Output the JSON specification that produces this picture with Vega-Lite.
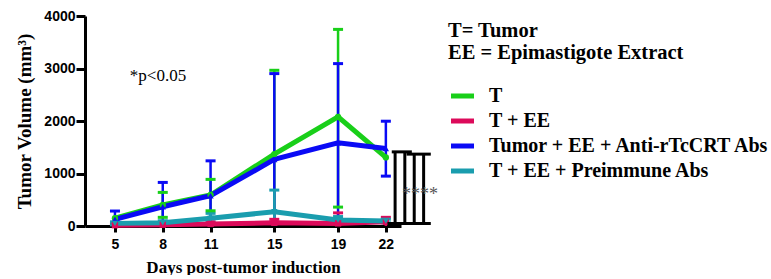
{
  "$schema": "https://vega.github.io/schema/vega-lite/v6.json",
  "width": 316,
  "height": 210,
  "padding": {"left": 15, "top": 9, "right": 0, "bottom": 0},
  "background": "white",
  "config": {
    "view": {"stroke": null},
    "axis": {
      "grid": false,
      "domainColor": "black",
      "domainWidth": 3,
      "tickColor": "black",
      "tickWidth": 3,
      "labelFont": "Liberation Sans",
      "labelFontWeight": "bold",
      "labelFontSize": 14,
      "labelColor": "black",
      "titleFont": "Liberation Serif",
      "titleFontWeight": "bold",
      "titleColor": "black"
    },
    "legend": {
      "labelFont": "Liberation Serif",
      "titleFont": "Liberation Serif"
    }
  },
  "datasets": {
    "series": [
      {"group": "T", "day": 5, "mean": 150, "lo": null, "hi": null},
      {"group": "T", "day": 8, "mean": 400, "lo": 165, "hi": 640},
      {"group": "T", "day": 11, "mean": 590, "lo": 290, "hi": 888},
      {"group": "T", "day": 15, "mean": 1370, "lo": 0, "hi": 2966},
      {"group": "T", "day": 19, "mean": 2078, "lo": 360, "hi": 3745},
      {"group": "T", "day": 22, "mean": 1306, "lo": null, "hi": null},
      {"group": "T + EE", "day": 5, "mean": 15, "lo": 0, "hi": 40},
      {"group": "T + EE", "day": 8, "mean": 25, "lo": 0, "hi": 55},
      {"group": "T + EE", "day": 11, "mean": 40, "lo": 0, "hi": 80},
      {"group": "T + EE", "day": 15, "mean": 60, "lo": 0, "hi": 127},
      {"group": "T + EE", "day": 19, "mean": 50, "lo": 0, "hi": 250},
      {"group": "T + EE", "day": 22, "mean": 80, "lo": 0, "hi": 165},
      {"group": "Tumor + EE + Anti-rTcCRT Abs", "day": 5, "mean": 127, "lo": 0, "hi": 285},
      {"group": "Tumor + EE + Anti-rTcCRT Abs", "day": 8, "mean": 367, "lo": 0, "hi": 830},
      {"group": "Tumor + EE + Anti-rTcCRT Abs", "day": 11, "mean": 576, "lo": 0, "hi": 1241},
      {"group": "Tumor + EE + Anti-rTcCRT Abs", "day": 15, "mean": 1268, "lo": 0, "hi": 2903},
      {"group": "Tumor + EE + Anti-rTcCRT Abs", "day": 19, "mean": 1584, "lo": 75, "hi": 3093},
      {"group": "Tumor + EE + Anti-rTcCRT Abs", "day": 22, "mean": 1477, "lo": 950, "hi": 1996},
      {"group": "T + EE + Preimmune Abs", "day": 5, "mean": 50, "lo": 20, "hi": 80},
      {"group": "T + EE + Preimmune Abs", "day": 8, "mean": 63, "lo": 30, "hi": 100},
      {"group": "T + EE + Preimmune Abs", "day": 11, "mean": 146, "lo": 51, "hi": 241},
      {"group": "T + EE + Preimmune Abs", "day": 15, "mean": 272, "lo": 0, "hi": 684},
      {"group": "T + EE + Preimmune Abs", "day": 19, "mean": 114, "lo": 50, "hi": 180},
      {"group": "T + EE + Preimmune Abs", "day": 22, "mean": 95, "lo": 60, "hi": 130}
    ],
    "brackets": [
      {"x1": 22.58, "x2": 22.58, "y1": 50, "y2": 1412},
      {"x1": 23.19, "x2": 23.19, "y1": 50, "y2": 1412},
      {"x1": 23.78, "x2": 23.78, "y1": 50, "y2": 1369},
      {"x1": 24.37, "x2": 24.37, "y1": 50, "y2": 1369},
      {"x1": 22.37, "x2": 23.63, "y1": 1412, "y2": 1412},
      {"x1": 23.30, "x2": 24.82, "y1": 1369, "y2": 1369},
      {"x1": 22.10, "x2": 24.82, "y1": 50, "y2": 50}
    ],
    "notes": [{"label": "*p<0.05", "day": 7.7, "value": 2850}],
    "stars": [{"label": "****", "day": 24.15, "value": 600}]
  },
  "layer": [
    {
      "data": {"name": "series"},
      "transform": [{"filter": "datum.hi != null"}],
      "mark": {"type": "rule", "strokeWidth": 2.5},
      "encoding": {
        "x": {"field": "day", "type": "quantitative", "scale": {"domain": [3.12, 22.95], "nice": false, "zero": false},
          "axis": {"values": [5, 8, 11, 15, 19, 22], "tickSize": 6, "labelPadding": 5, "title": "Days post-tumor induction", "titleFontSize": 17, "titlePadding": 8}},
        "y": {"field": "lo", "type": "quantitative", "scale": {"domain": [0, 4000], "nice": false},
          "axis": {"values": [0, 1000, 2000, 3000, 4000], "format": "d", "tickSize": 9, "labelPadding": 1, "title": "Tumor Volume (mm³)", "titleFontSize": 19, "titlePadding": 9}},
        "y2": {"field": "hi"},
        "color": {"field": "group", "type": "nominal",
          "scale": {"domain": ["T", "T + EE", "Tumor + EE + Anti-rTcCRT Abs", "T + EE + Preimmune Abs"], "range": ["#19cf19", "#dc0a5a", "#0a0af5", "#1a9dae"]},
          "legend": {
            "title": ["T= Tumor", "EE = Epimastigote Extract"],
            "orient": "none", "legendX": 363, "legendY": 5,
            "symbolType": "stroke", "symbolSize": 530, "symbolStrokeWidth": 5,
            "labelFont": "Liberation Serif", "labelFontWeight": "bold", "labelFontSize": 20, "labelColor": "black", "labelLimit": 400, "labelOffset": 12,
            "titleFont": "Liberation Serif", "titleFontWeight": "bold", "titleFontSize": 20.5, "titleColor": "black", "titleLineHeight": 22, "titlePadding": 18, "titleLimit": 400,
            "rowPadding": 0, "padding": 0
          }}
      }
    },
    {
      "data": {"name": "series"},
      "transform": [{"filter": "datum.hi != null"}],
      "mark": {"type": "tick", "orient": "horizontal", "size": 10, "thickness": 3, "opacity": 1},
      "encoding": {
        "x": {"field": "day", "type": "quantitative"},
        "y": {"field": "hi", "type": "quantitative"},
        "color": {"field": "group", "type": "nominal"}
      }
    },
    {
      "data": {"name": "series"},
      "transform": [{"filter": "datum.lo != null && datum.lo > 0"}],
      "mark": {"type": "tick", "orient": "horizontal", "size": 10, "thickness": 3, "opacity": 1},
      "encoding": {
        "x": {"field": "day", "type": "quantitative"},
        "y": {"field": "lo", "type": "quantitative"},
        "color": {"field": "group", "type": "nominal"}
      }
    },
    {
      "data": {"name": "series"},
      "mark": {"type": "line", "strokeWidth": 5},
      "encoding": {
        "x": {"field": "day", "type": "quantitative"},
        "y": {"field": "mean", "type": "quantitative"},
        "color": {"field": "group", "type": "nominal"}
      }
    },
    {
      "data": {"name": "series"},
      "transform": [{"filter": "datum.group == 'T'"}],
      "mark": {"type": "point", "filled": true, "opacity": 1, "size": 40, "shape": "circle"},
      "encoding": {
        "x": {"field": "day", "type": "quantitative"},
        "y": {"field": "mean", "type": "quantitative"},
        "color": {"field": "group", "type": "nominal"}
      }
    },
    {
      "data": {"name": "series"},
      "transform": [{"filter": "datum.group == 'T + EE'"}],
      "mark": {"type": "point", "filled": true, "opacity": 1, "size": 40, "shape": "square"},
      "encoding": {
        "x": {"field": "day", "type": "quantitative"},
        "y": {"field": "mean", "type": "quantitative"},
        "color": {"field": "group", "type": "nominal"}
      }
    },
    {
      "data": {"name": "series"},
      "transform": [{"filter": "datum.group == 'Tumor + EE + Anti-rTcCRT Abs'"}],
      "mark": {"type": "point", "filled": true, "opacity": 1, "size": 40, "shape": "triangle-up"},
      "encoding": {
        "x": {"field": "day", "type": "quantitative"},
        "y": {"field": "mean", "type": "quantitative"},
        "color": {"field": "group", "type": "nominal"}
      }
    },
    {
      "data": {"name": "series"},
      "transform": [{"filter": "datum.group == 'T + EE + Preimmune Abs'"}],
      "mark": {"type": "point", "filled": true, "opacity": 1, "size": 40, "shape": "triangle-down"},
      "encoding": {
        "x": {"field": "day", "type": "quantitative"},
        "y": {"field": "mean", "type": "quantitative"},
        "color": {"field": "group", "type": "nominal"}
      }
    },
    {
      "data": {"name": "brackets"},
      "mark": {"type": "rule", "strokeWidth": 3, "color": "black"},
      "encoding": {
        "x": {"field": "x1", "type": "quantitative"},
        "x2": {"field": "x2"},
        "y": {"field": "y1", "type": "quantitative"},
        "y2": {"field": "y2"}
      }
    },
    {
      "data": {"name": "notes"},
      "mark": {"type": "text", "font": "Liberation Serif", "fontSize": 17, "color": "black"},
      "encoding": {
        "x": {"field": "day", "type": "quantitative"},
        "y": {"field": "value", "type": "quantitative"},
        "text": {"field": "label"}
      }
    },
    {
      "data": {"name": "stars"},
      "mark": {"type": "text", "font": "Liberation Serif", "fontSize": 18, "color": "#555555"},
      "encoding": {
        "x": {"field": "day", "type": "quantitative"},
        "y": {"field": "value", "type": "quantitative"},
        "text": {"field": "label"}
      }
    }
  ]
}
